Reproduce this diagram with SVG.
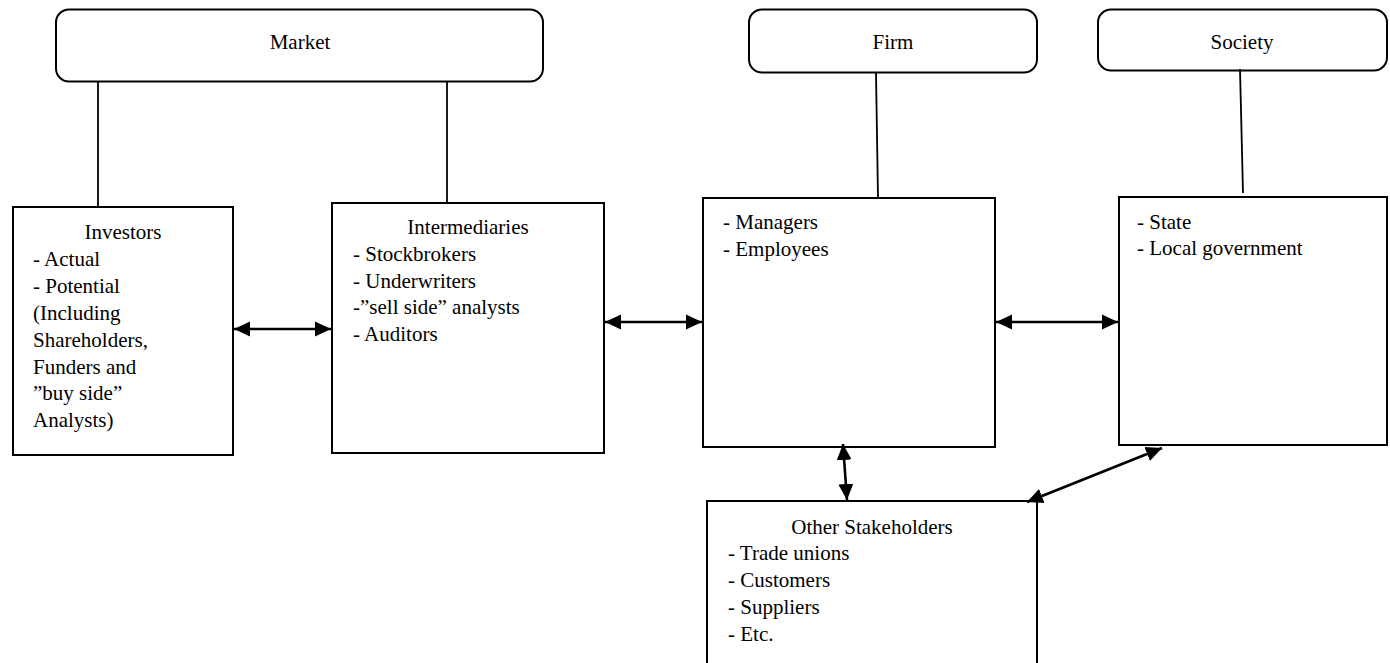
<svg xmlns="http://www.w3.org/2000/svg" width="1390" height="663" viewBox="0 0 1390 663">
<defs>
<style>
.box{fill:#fff;stroke:#000;stroke-width:2}
.t{font-family:"Liberation Serif","Times New Roman",serif;font-size:21px;fill:#000}
.c{text-anchor:middle}
.ln{stroke:#000;stroke-width:1.8;fill:none}
.ar{stroke:#000;stroke-width:2.6;fill:none;marker-start:url(#ah);marker-end:url(#ah)}
</style>
<marker id="ah" markerUnits="userSpaceOnUse" markerWidth="16" markerHeight="16" refX="16" refY="7.5" orient="auto-start-reverse" viewBox="0 0 16 15">
<path d="M0,0 L16,7.5 L0,15 z" fill="#000"/>
</marker>
</defs>
<rect width="1390" height="663" fill="#fff"/>
<g id="market">
<rect class="box" x="56" y="9.5" width="487" height="72" rx="13"/>
<text class="t c" x="300" y="49">Market</text>
</g>
<g id="firm">
<rect class="box" x="749" y="9.5" width="288" height="63" rx="13"/>
<text class="t c" x="893" y="49">Firm</text>
</g>
<g id="society">
<rect class="box" x="1098" y="9.5" width="289" height="61" rx="13"/>
<text class="t c" x="1242" y="49">Society</text>
</g>
<g id="investors">
<rect class="box" x="13" y="207" width="220" height="248"/>
<text class="t c" x="123" y="239">Investors</text>
<text class="t" x="33" y="266">- Actual</text>
<text class="t" x="33" y="293">- Potential</text>
<text class="t" x="33" y="320">(Including</text>
<text class="t" x="33" y="347">Shareholders,</text>
<text class="t" x="33" y="374">Funders and</text>
<text class="t" x="33" y="400">”buy side”</text>
<text class="t" x="33" y="427">Analysts)</text>
</g>
<g id="intermediaries">
<rect class="box" x="332" y="203" width="272" height="250"/>
<text class="t c" x="468" y="234">Intermediaries</text>
<text class="t" x="353" y="261">- Stockbrokers</text>
<text class="t" x="353" y="288">- Underwriters</text>
<text class="t" x="353" y="314">-”sell side” analysts</text>
<text class="t" x="353" y="341">- Auditors</text>
</g>
<g id="managers">
<rect class="box" x="703" y="198" width="292" height="249"/>
<text class="t" x="723" y="229">- Managers</text>
<text class="t" x="723" y="256">- Employees</text>
</g>
<g id="state">
<rect class="box" x="1119" y="197" width="268" height="248"/>
<text class="t" x="1137" y="229">- State</text>
<text class="t" x="1137" y="255">- Local government</text>
</g>
<g id="other">
<rect class="box" x="707" y="501" width="330" height="200"/>
<text class="t c" x="872" y="534">Other Stakeholders</text>
<text class="t" x="728" y="560">- Trade unions</text>
<text class="t" x="728" y="587">- Customers</text>
<text class="t" x="728" y="614">- Suppliers</text>
<text class="t" x="728" y="641">- Etc.</text>
</g>
<g id="connectors">
<line class="ln" x1="98" y1="82" x2="98" y2="206"/>
<line class="ln" x1="447" y1="82" x2="447" y2="203"/>
<line class="ln" x1="876" y1="73" x2="878" y2="198"/>
<line class="ln" x1="1240" y1="69" x2="1243" y2="193"/>
<line class="ar" x1="234" y1="329" x2="331" y2="329"/>
<line class="ar" x1="605" y1="322" x2="702" y2="322"/>
<line class="ar" x1="996" y1="322" x2="1118" y2="322"/>
<line class="ar" x1="843" y1="444" x2="847" y2="500"/>
<line class="ar" x1="1027" y1="502" x2="1162" y2="448"/>
</g>
</svg>
